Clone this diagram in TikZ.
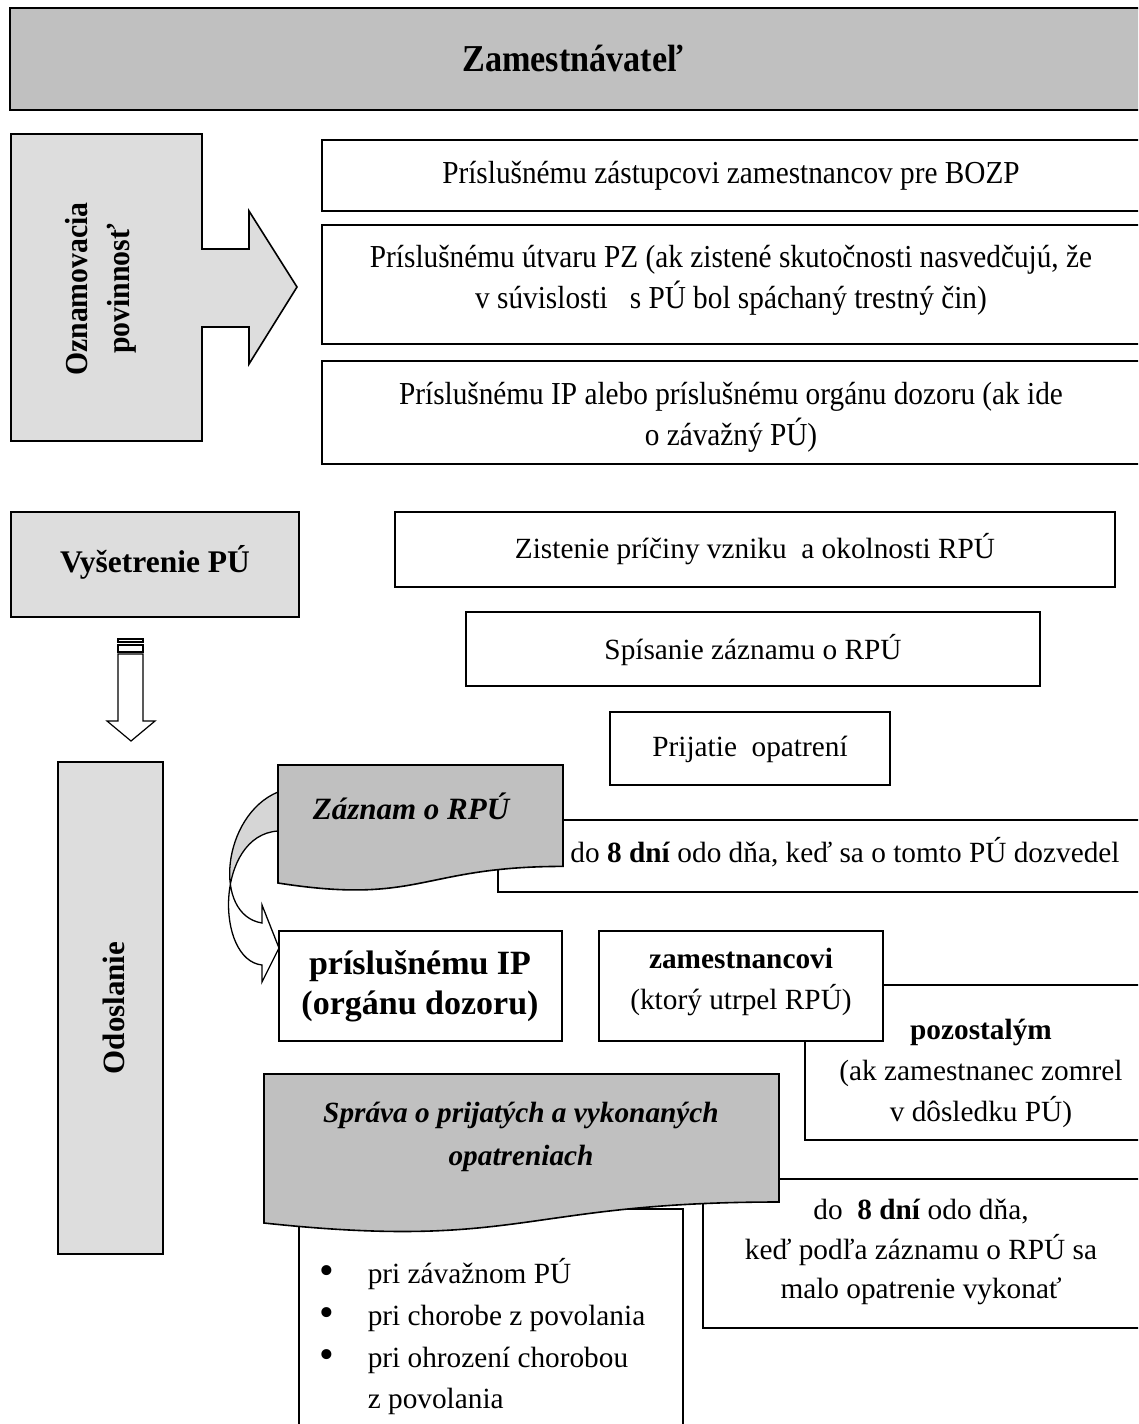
\documentclass[tikz,border=0pt]{standalone}
\usepackage{fontspec}
\setmainfont{Liberation Serif}
\newfontfamily\condserif[FakeStretch=0.915]{Liberation Serif}
\newfontfamily\condozn[FakeStretch=0.93]{Liberation Serif}
\newfontfamily\condtitle[FakeStretch=0.9]{Liberation Serif}
\usetikzlibrary{intersections}
\definecolor{docgray}{HTML}{C0C0C0}
\definecolor{lightgray2}{HTML}{DDDDDD}
\definecolor{arrowgray}{HTML}{D6D6D6}
\begin{document}
\begin{tikzpicture}[x=1pt,y=-1pt,line width=1.6pt,line join=miter]
\tikzset{
  lbl/.style={inner sep=0pt, align=center, font=\fontsize{29.3}{41}\selectfont},
  lblb/.style={lbl, font=\fontsize{29.3}{41}\selectfont\bfseries},
  lblbi/.style={lbl, font=\fontsize{29.3}{43}\selectfont\bfseries\itshape},
  toptext/.style={lbl, font=\condserif\fontsize{32}{41}\selectfont},
  shapebox/.style={draw=black, fill=white},
}
\useasboundingbox (0,0) rectangle (1138,1424);
\clip (0,0) rectangle (1138,1424);
\fill[white] (0,0) rectangle (1138,1424);

% title
\draw[fill=docgray] (10,8) rectangle (1150,110);
\node[lbl, font=\condtitle\fontsize{38}{44}\selectfont\bfseries] (title) at (573,58) {Zamestnávateľ};

% Oznamovacia povinnost block arrow
\draw[fill=lightgray2] (11,134) -- (202,134) -- (202,249) -- (249,249) -- (249,211) -- (297,287)
  -- (249,364) -- (249,327) -- (202,327) -- (202,441) -- (11,441) -- cycle;
\node[lbl, font=\condozn\fontsize{32}{42}\selectfont\bfseries, rotate=90] (ozn) at (101,289) {Oznamovacia\\povinnosť};

% top boxes
\draw[shapebox] (322,140) rectangle (1150,211);
\node[toptext] (bozp) at (731,176) {Príslušnému zástupcovi zamestnancov pre BOZP};
\draw[shapebox] (322,225) rectangle (1150,344);
\node[toptext] (pz) at (731,280) {Príslušnému útvaru PZ (ak zistené skutočnosti nasvedčujú, že\\v súvislosti \ \ s PÚ bol spáchaný trestný čin)};
\draw[shapebox] (322,361) rectangle (1150,464);
\node[toptext] (ip) at (731,417) {Príslušnému IP alebo príslušnému orgánu dozoru (ak ide\\o závažný PÚ)};

% Vysetrenie
\draw[fill=lightgray2] (11,512) rectangle (299,617);
\node[lbl, font=\fontsize{31.5}{40}\selectfont\bfseries] (vys) at (155,562) {Vyšetrenie PÚ};
\draw[shapebox] (395,512) rectangle (1115,587);
\node[lbl] (zist) at (755,549) {Zistenie príčiny vzniku \ a okolnosti RPÚ};
\draw[shapebox] (466,612) rectangle (1040,686);
\node[lbl] (spis) at (753,650) {Spísanie záznamu o RPÚ};
\draw[shapebox] (610,712) rectangle (890,785);
\node[lbl] (prij) at (750,749) {Prijatie \ opatrení};

% striped down arrow
\begin{scope}[line width=1.2pt]
\draw[fill=white] (118,639) rectangle (143,642);
\draw[fill=white] (118,645) rectangle (143,652);
\draw[fill=white] (118,654) -- (143,654) -- (143,721) -- (155,721) -- (131,741) -- (107,721) -- (118,721) -- cycle;
\end{scope}

% Odoslanie
\draw[fill=lightgray2] (58,762) rectangle (163,1254);
\node[lbl, font=\fontsize{31}{40}\selectfont\bfseries, rotate=90] (odos) at (114,1008) {Odoslanie};

% box behind Zaznam
\draw[shapebox] (498,820) rectangle (1150,892);
\node[lbl] (dni1) at (845,852) {do \textbf{8 dní} odo dňa, keď sa o tomto PÚ dozvedel};

% curved arrow
\path[name path=ca] (278,792) .. controls (222,815) and (212,915) .. (262,923);
\path[name path=cb] (278,831) .. controls (215,835) and (215,960) .. (262,965);
\path[name intersections={of=ca and cb, by={cx}}];
\coordinate (rr) at (300,0);
\fill[white] (278,792) .. controls (222,815) and (212,915) .. (262,923) -- (262,905) -- (279,948)
  -- (262,982) -- (262,965) .. controls (215,960) and (215,835) .. (278,831) -- cycle;
\begin{scope}
\clip (278,792) .. controls (222,815) and (212,915) .. (262,923) -- (262,905) -- (279,948)
  -- (262,982) -- (262,965) .. controls (215,960) and (215,835) .. (278,831) -- cycle;
\fill[arrowgray] (190,770) rectangle (cx -| rr);
\end{scope}
\draw[line width=1.3pt] (278,792) .. controls (222,815) and (212,915) .. (262,923) -- (262,905) -- (279,948)
  -- (262,982) -- (262,965) .. controls (215,960) and (215,835) .. (278,831);

% Zaznam document shape
\draw[fill=docgray] (278,765) -- (563,765) -- (563,866.4) .. controls (420.5,866.4) and (420.5,905.4) .. (278,883) -- cycle;
\node[lbl, font=\fontsize{31}{40}\selectfont\bfseries\itshape] (zazn) at (411,806) {Záznam o RPÚ};

% recipients
\draw[shapebox] (279,931) rectangle (562,1041);
\node[lbl, font=\fontsize{34}{40}\selectfont\bfseries] (pip) at (420,986) {príslušnému IP\\(orgánu dozoru)};
\draw[shapebox] (805,985) rectangle (1150,1140);
\node[lbl] (pozo) at (981,1073) {\textbf{pozostalým}\\(ak zamestnanec zomrel\\v dôsledku PÚ)};
\draw[shapebox] (599,931) rectangle (883,1041);
\node[lbl] (zam) at (741,982) {\textbf{zamestnancovi}\\(ktorý utrpel RPÚ)};

% bullet box and second deadline box
\draw[shapebox] (299,1209) rectangle (683,1440);
\draw[shapebox] (703,1179) rectangle (1150,1328);
\node[lbl, font=\fontsize{29.3}{39.5}\selectfont] (dni2) at (921,1252) {do \ \textbf{8 dní} odo dňa,\\keď podľa záznamu o RPÚ sa\\malo opatrenie vykonať};

% Sprava document shape
\draw[fill=docgray] (264,1074) -- (779,1074) -- (779,1202) .. controls (521.5,1202) and (521.5,1250.6) .. (264,1223) -- cycle;
\node[lblbi] (sprava) at (521,1137) {Správa o prijatých a vykonaných\\opatreniach};

% bullets
\node[lbl, font=\fontsize{42}{42}\selectfont, anchor=base] (b1) at (327,1284) {•};
\node[lbl, font=\fontsize{42}{42}\selectfont, anchor=base] (b2) at (327,1326) {•};
\node[lbl, font=\fontsize{42}{42}\selectfont, anchor=base] (b3) at (327,1368) {•};
\node[lbl, anchor=base west] (l1) at (367,1283) {pri závažnom PÚ};
\node[lbl, anchor=base west] (l2) at (367,1325) {pri chorobe z povolania};
\node[lbl, anchor=base west] (l3) at (367,1367) {pri ohrození chorobou};
\node[lbl, anchor=base west] (l4) at (367,1408) {z povolania};
\end{tikzpicture}
\end{document}
